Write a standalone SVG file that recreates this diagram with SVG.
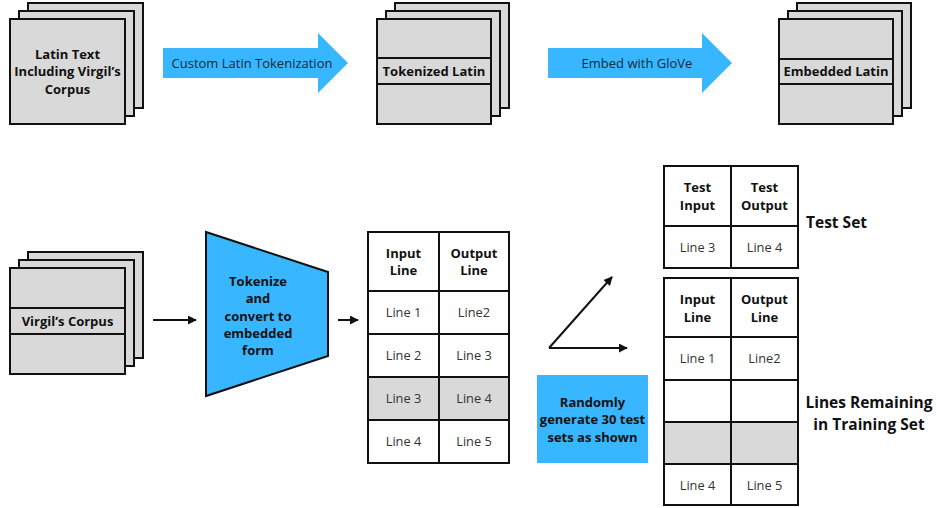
<svg xmlns="http://www.w3.org/2000/svg" width="937" height="508" viewBox="0 0 937 508">
  <style>
    .sheet { fill: #d9d9d9; stroke: #111; stroke-width: 2; }
    .rule { stroke: #111; stroke-width: 2; fill: none; }
    .cell { fill: #fff; stroke: #111; stroke-width: 2; }
    .cell-gray { fill: #d9d9d9; stroke: #111; stroke-width: 2; }
    .blue { fill: #38b6ff; }
    .bold { font-family: "Open Sans", "Liberation Sans", sans-serif; font-weight: 700; font-size: 13px; fill: #111; text-anchor: middle; }
    .reg { font-family: "Open Sans", "Liberation Sans", sans-serif; font-weight: 400; font-size: 12.8px; fill: #333; text-anchor: middle; }
    .arrow-label { font-family: "Open Sans", "Liberation Sans", sans-serif; font-size: 13px; fill: #1b2a38; text-anchor: middle; }
    .big { font-family: "Open Sans", "Liberation Sans", sans-serif; font-weight: 700; font-size: 15.5px; fill: #111; }
    .conn { stroke: #111; stroke-width: 2; fill: none; marker-end: url(#head); }
  </style>
  <defs>
    <marker id="head" viewBox="0 0 10 10" refX="9" refY="5" markerWidth="4.5" markerHeight="4.5" orient="auto" markerUnits="strokeWidth">
      <path d="M0,0 L10,5 L0,10 Z" fill="#111"/>
    </marker>
  </defs>

  <rect width="937" height="508" fill="#fff"/>

  <!-- Top row: Latin text stack -->
  <g id="latin-text">
    <rect class="sheet" x="28" y="3" width="115" height="105"/>
    <rect class="sheet" x="19" y="11" width="115" height="105"/>
    <rect class="sheet" x="10" y="19" width="115" height="105"/>
    <text class="bold" x="67.5" y="58.5">Latin Text</text>
    <text class="bold" x="67.5" y="75.5">Including Virgil’s</text>
    <text class="bold" x="67.5" y="93.5">Corpus</text>
  </g>

  <g id="tokenization-arrow">
    <polygon class="blue" points="163,48 318,48 318,33 348,63 318,93 318,78 163,78"/>
    <text class="arrow-label" x="252" y="67.5">Custom Latin Tokenization</text>
  </g>

  <g id="tokenized-latin">
    <rect class="sheet" x="395" y="3" width="114" height="105"/>
    <rect class="sheet" x="386" y="11" width="114" height="105"/>
    <rect class="sheet" x="377" y="19" width="114" height="105"/>
    <line class="rule" x1="377" y1="58" x2="491" y2="58"/>
    <line class="rule" x1="377" y1="84" x2="491" y2="84"/>
    <text class="bold" x="434" y="75.5">Tokenized Latin</text>
  </g>

  <g id="glove-arrow">
    <polygon class="blue" points="548,48 702,48 702,33 732,63 702,93 702,78 548,78"/>
    <text class="arrow-label" x="637" y="67.5">Embed with GloVe</text>
  </g>

  <g id="embedded-latin">
    <rect class="sheet" x="797" y="3" width="114" height="105"/>
    <rect class="sheet" x="788" y="11" width="114" height="105"/>
    <rect class="sheet" x="779" y="19" width="114" height="105"/>
    <line class="rule" x1="779" y1="59" x2="893" y2="59"/>
    <line class="rule" x1="779" y1="84" x2="893" y2="84"/>
    <text class="bold" x="836" y="75.5">Embedded Latin</text>
  </g>

  <!-- Bottom row -->
  <g id="virgil-corpus">
    <rect class="sheet" x="28" y="252" width="115" height="106"/>
    <rect class="sheet" x="19" y="260" width="115" height="106"/>
    <rect class="sheet" x="10" y="268" width="115" height="106"/>
    <line class="rule" x1="10" y1="308" x2="125" y2="308"/>
    <line class="rule" x1="10" y1="334" x2="125" y2="334"/>
    <text class="bold" x="67.5" y="325.5">Virgil’s Corpus</text>
  </g>

  <g id="tokenize-embed">
    <polygon points="206,232 328,272 328,356 206,396" fill="#38b6ff" stroke="#111" stroke-width="2"/>
    <text class="bold" x="258" y="285.5">Tokenize</text>
    <text class="bold" x="258" y="302.5">and</text>
    <text class="bold" x="258" y="320.5">convert to</text>
    <text class="bold" x="258" y="337.5">embedded</text>
    <text class="bold" x="258" y="354.5">form</text>
  </g>

  <g id="line-pairs">
    <rect class="cell" x="368" y="232" width="71" height="59"/>
    <rect class="cell" x="439" y="232" width="70" height="59"/>
    <rect class="cell" x="368" y="291" width="71" height="43"/>
    <rect class="cell" x="439" y="291" width="70" height="43"/>
    <rect class="cell" x="368" y="334" width="71" height="43"/>
    <rect class="cell" x="439" y="334" width="70" height="43"/>
    <rect class="cell-gray" x="368" y="377" width="71" height="43"/>
    <rect class="cell-gray" x="439" y="377" width="70" height="43"/>
    <rect class="cell" x="368" y="420" width="71" height="43"/>
    <rect class="cell" x="439" y="420" width="70" height="43"/>
    <text class="bold" x="403.5" y="257.5">Input</text>
    <text class="bold" x="403.5" y="274.5">Line</text>
    <text class="bold" x="474" y="257.5">Output</text>
    <text class="bold" x="474" y="274.5">Line</text>
    <text class="reg" x="403.5" y="317">Line 1</text>
    <text class="reg" x="474" y="317">Line2</text>
    <text class="reg" x="403.5" y="360">Line 2</text>
    <text class="reg" x="474" y="360">Line 3</text>
    <text class="reg" x="403.5" y="403">Line 3</text>
    <text class="reg" x="474" y="403">Line 4</text>
    <text class="reg" x="403.5" y="446">Line 4</text>
    <text class="reg" x="474" y="446">Line 5</text>
  </g>

  <g id="random-note">
    <rect class="blue" x="537" y="375" width="111" height="88"/>
    <text class="bold" x="592.5" y="406.5">Randomly</text>
    <text class="bold" x="592.5" y="423.5">generate 30 test</text>
    <text class="bold" x="592.5" y="441.5">sets as shown</text>
  </g>

  <g id="test-set">
    <rect class="cell" x="664" y="166" width="67" height="60"/>
    <rect class="cell" x="731" y="166" width="67" height="60"/>
    <rect class="cell" x="664" y="226" width="67" height="42"/>
    <rect class="cell" x="731" y="226" width="67" height="42"/>
    <text class="bold" x="697.5" y="191.5">Test</text>
    <text class="bold" x="697.5" y="209.5">Input</text>
    <text class="bold" x="764.5" y="191.5">Test</text>
    <text class="bold" x="764.5" y="209.5">Output</text>
    <text class="reg" x="697.5" y="251.5">Line 3</text>
    <text class="reg" x="764.5" y="251.5">Line 4</text>
    <text class="big" x="806" y="227.5">Test Set</text>
  </g>

  <g id="training-set">
    <rect class="cell" x="664" y="278" width="67" height="59"/>
    <rect class="cell" x="731" y="278" width="67" height="59"/>
    <rect class="cell" x="664" y="337" width="67" height="43"/>
    <rect class="cell" x="731" y="337" width="67" height="43"/>
    <rect class="cell" x="664" y="380" width="67" height="42"/>
    <rect class="cell" x="731" y="380" width="67" height="42"/>
    <rect class="cell-gray" x="664" y="422" width="67" height="42"/>
    <rect class="cell-gray" x="731" y="422" width="67" height="42"/>
    <rect class="cell" x="664" y="464" width="67" height="41"/>
    <rect class="cell" x="731" y="464" width="67" height="41"/>
    <text class="bold" x="697.5" y="303.5">Input</text>
    <text class="bold" x="697.5" y="321.5">Line</text>
    <text class="bold" x="764.5" y="303.5">Output</text>
    <text class="bold" x="764.5" y="321.5">Line</text>
    <text class="reg" x="697.5" y="363">Line 1</text>
    <text class="reg" x="764.5" y="363">Line2</text>
    <text class="reg" x="697.5" y="489.5">Line 4</text>
    <text class="reg" x="764.5" y="489.5">Line 5</text>
    <text class="big" x="869" y="408" text-anchor="middle">Lines Remaining</text>
    <text class="big" x="869" y="430" text-anchor="middle">in Training Set</text>
  </g>

  <!-- Connectors -->
  <g id="connectors">
    <line class="conn" x1="153" y1="320" x2="196" y2="320"/>
    <line class="conn" x1="338" y1="320" x2="358" y2="320"/>
    <line class="conn" x1="549" y1="348" x2="612" y2="277"/>
    <line class="conn" x1="549" y1="348" x2="627" y2="348"/>
  </g>
</svg>
